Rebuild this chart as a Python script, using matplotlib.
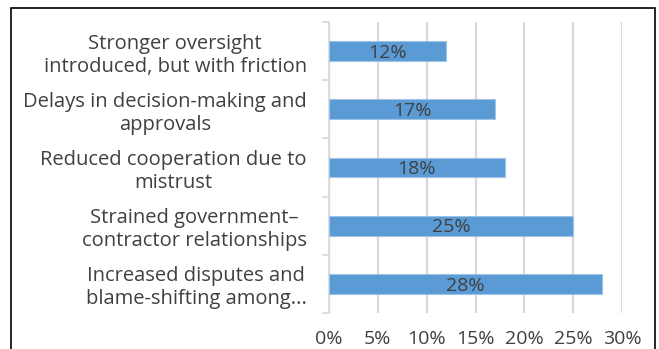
import numpy as np
import matplotlib
matplotlib.use('Agg')
import matplotlib.pyplot as plt
from matplotlib.patches import Rectangle

plt.rcParams['font.family'] = ['Open Sans', 'DejaVu Sans']

# data, top to bottom as shown
categories = ['Stronger oversight\nintroduced, but with friction',
              'Delays in decision-making and\napprovals',
              'Reduced cooperation due to\nmistrust',
              'Strained government–\ncontractor relationships',
              'Increased disputes and\nblame-shifting among...']
values = [0.12, 0.17, 0.18, 0.25, 0.28]
value_labels = ['12%', '17%', '18%', '25%', '28%']
xticks = [0, 0.05, 0.10, 0.15, 0.20, 0.25, 0.30]
xtick_labels = ['0%', '5%', '10%', '15%', '20%', '25%', '30%']

text_col = '#404040'
grid_col = '#d9d9d9'

fig = plt.figure(figsize=[6.59, 3.49], dpi=100)
ax = fig.add_axes([329/659, 1-313/349, (622-329)/659, (313-22)/349])

ypos = np.arange(len(categories))
ax.barh(ypos, values, height=0.34, color='#5b9bd5', edgecolor='#9dc3e6',
        linewidth=0.8, zorder=3)

for y, v, lab in zip(ypos, values, value_labels):
    ax.text(v/2, y + 0.03, lab, ha='center', va='center', fontsize=14,
            color=text_col, zorder=4)

ax.set_ylim(len(categories) - 0.5, -0.5)
ax.set_xlim(0, 0.30)

ax.set_xticks(xticks)
ax.set_xticklabels(xtick_labels, fontsize=14, color=text_col)
ax.tick_params(axis='x', length=0, pad=12.5)
ax.xaxis.grid(True, color=grid_col, linewidth=1.6, zorder=0)

ax.set_yticks(ypos)
ax.set_yticklabels(categories, fontsize=14.5, color=text_col,
                   multialignment='center', linespacing=1.2)
ax.tick_params(axis='y', length=0, pad=16)
ax.set_yticks(np.arange(-0.5, len(categories), 1.0), minor=True)
ax.tick_params(axis='y', which='minor', length=5, color=grid_col, width=1.2)

for s in ['top', 'right', 'bottom']:
    ax.spines[s].set_visible(False)
ax.spines['left'].set_color(grid_col)
ax.spines['left'].set_linewidth(1.2)

# outer border of the chart area
fig.patches.append(Rectangle((11/659, -0.1), (655-11)/659, 1.1 - 8/349,
                             transform=fig.transFigure, fill=False,
                             edgecolor='black', linewidth=1.2))

fig.savefig('out.png', dpi=100)
